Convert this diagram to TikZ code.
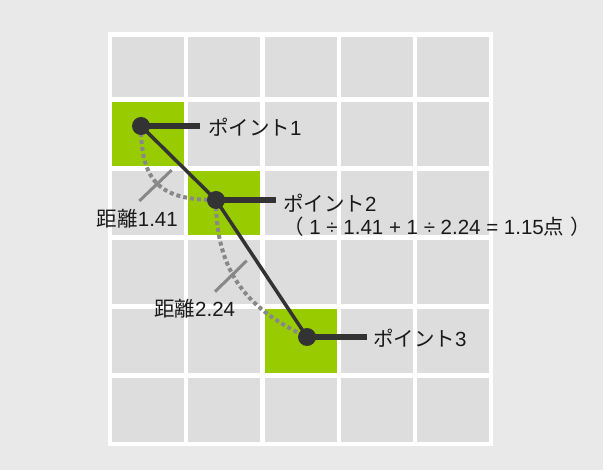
\documentclass[tikz,border=0pt]{standalone}
\usepackage{fontspec}
\setmainfont{Liberation Sans}
\newfontfamily\jp{Noto Sans CJK JP}
\definecolor{bgout}{HTML}{E9E9E9}
\definecolor{cellgray}{HTML}{DDDDDD}
\definecolor{cellgreen}{HTML}{99CC00}
\definecolor{darkline}{HTML}{333333}
\definecolor{arcgray}{HTML}{888888}
\definecolor{txt}{HTML}{1A1A1A}
\begin{document}
\begin{tikzpicture}[x=1pt,y=-1pt,
  dot/.style={circle,fill=darkline,inner sep=0pt,minimum size=18pt},
  leader/.style={draw=darkline,line width=6pt},
  mainline/.style={draw=darkline,line width=3.5pt},
  arcline/.style={draw=arcgray,line width=4pt,dash pattern=on 4pt off 3pt},
  tick/.style={draw=arcgray,line width=3pt},
  lbl/.style={font=\fontsize{20.5}{24}\selectfont,text=txt,inner sep=0pt}]
\fill[bgout] (0,0) rectangle (603,470);
\useasboundingbox (0,0) rectangle (603,470);
\fill[white] (108,32) rectangle (493,446);
% grid cells
\foreach \i in {0,...,4}{
  \fill[cellgray] ({112+76.25*\i},36.7) rectangle ++(72,60);
  \foreach \j in {0,...,4}{
    \fill[cellgray] ({112+76.25*\i},{101.7+69*\j}) rectangle ++(72,64);
  }
}
\fill[cellgreen] (112,101.7) rectangle ++(72,64);
\fill[cellgreen] (188.25,170.7) rectangle ++(72,64);
\fill[cellgreen] (264.5,308.7) rectangle ++(72,64);
% points
\coordinate (p1) at (141,126);
\coordinate (p2) at (216,200);
\coordinate (p3) at (307,337);
% dotted arcs
\draw[arcline] (p1) .. controls (141,182) and (160,200) .. (p2);
\draw[arcline] (p2) .. controls (216,275) and (250,310) .. (p3);
% ticks
\coordinate (t1a) at (171.7,170); \coordinate (t1b) at (139.3,201);
\coordinate (t2a) at (246.7,260.7); \coordinate (t2b) at (215,291.7);
\draw[tick] (t1a) -- (t1b);
\draw[tick] (t2a) -- (t2b);
% leaders
\coordinate (l1) at (200,126);
\coordinate (l2) at (276,200);
\coordinate (l3) at (367,337);
\draw[leader] (p1) -- (l1);
\draw[leader] (p2) -- (l2);
\draw[leader] (p3) -- (l3);
% main line
\draw[mainline] (p1) -- (p2) -- (p3);
\node[dot] (d1) at (p1) {};
\node[dot] (d2) at (p2) {};
\node[dot] (d3) at (p3) {};
% labels
\node[lbl,anchor=base west] (n1) at (208,136) {{\jp ポイント}1};
\node[lbl,anchor=base west] (n2) at (283,211.5) {{\jp ポイント}2};
\node[lbl,anchor=base west] (n2b) at (283,235) {{\jp （} 1 ÷ 1.41 + 1 ÷ 2.24 = 1.15{\jp 点} {\jp ）}};
\node[lbl,anchor=base west] (n3) at (373,347) {{\jp ポイント}3};
\node[lbl,anchor=base east] (a1) at (178,226.5) {{\jp 距離}1.41};
\node[lbl,anchor=base west] (a2) at (154,316.5) {{\jp 距離}2.24};
\end{tikzpicture}
\end{document}
